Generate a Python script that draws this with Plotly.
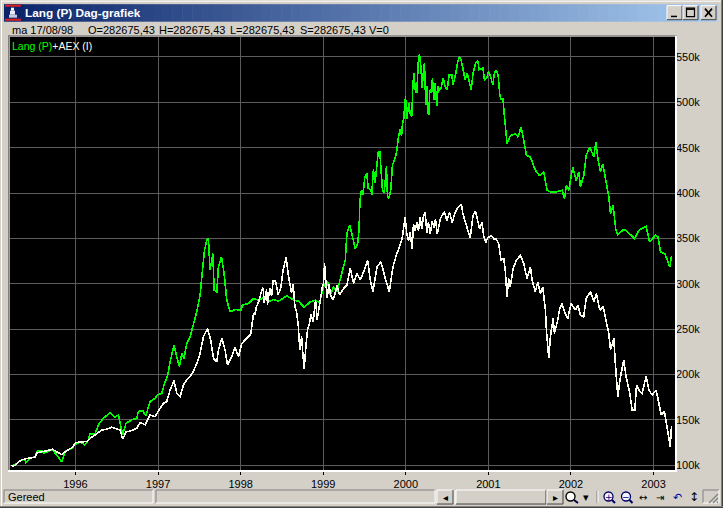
import plotly.graph_objects as go

TITLE = "Lang (P) Dag-grafiek"
QUOTE_DATE = "ma 17/08/98"
QUOTE_FIELDS = ["O=282675,43", "H=282675,43", "L=282675,43", "S=282675,43", "V=0"]
STATUS = "Gereed"
YEAR_TICKS = [1996, 1997, 1998, 1999, 2000, 2001, 2002, 2003]
VALUE_TICKS = [100, 150, 200, 250, 300, 350, 400, 450, 500, 550]
VALUE_LABELS = ["100k", "150k", "200k", "250k", "300k", "350k", "400k", "450k", "500k", "550k"]

lang_years = [1995.226,1995.287,1995.327,1995.388,1995.4,1995.449,1995.509,1995.538,1995.59,1995.618,1995.671,1995.719,1995.772,1995.832,1995.873,1995.913,1995.954,1996.006,1996.055,1996.115,1996.156,1996.176,1996.237,1996.277,1996.338,1996.418,1996.479,1996.519,1996.572,1996.612,1996.681,1996.742,1996.762,1996.814,1996.851,1996.903,1996.964,1996.992,1997.045,1997.073,1997.117,1997.146,1997.194,1997.226,1997.259,1997.287,1997.315,1997.348,1997.388,1997.421,1997.469,1997.509,1997.538,1997.562,1997.59,1997.61,1997.63,1997.663,1997.679,1997.711,1997.731,1997.768,1997.8,1997.832,1997.873,1997.933,1998.002,1998.022,1998.095,1998.156,1998.216,1998.277,1998.338,1998.398,1998.459,1998.56,1998.641,1998.701,1998.77,1998.843,1998.903,1998.956,1999.004,1999.053,1999.085,1999.125,1999.166,1999.202,1999.239,1999.267,1999.287,1999.32,1999.336,1999.368,1999.388,1999.417,1999.433,1999.441,
1999.443,1999.463,1999.483,1999.503,1999.528,1999.544,1999.576,1999.588,1999.608,1999.629,1999.649,1999.665,1999.685,1999.697,1999.717,1999.738,1999.746,1999.766,1999.778,1999.798,1999.818,1999.839,1999.859,1999.887,1999.907,1999.931,1999.948,1999.96,1999.976,1999.996,2000.012,2000.036,2000.052,2000.073,2000.085,2000.097,2000.117,2000.133,2000.153,2000.166,2000.182,2000.198,2000.21,2000.226,2000.242,2000.254,2000.266,2000.279,2000.291,2000.307,2000.323,2000.339,2000.355,2000.375,2000.392,2000.408,2000.428,2000.452,2000.476,2000.501,2000.525,2000.557,2000.573,2000.602,2000.63,2000.65,2000.67,2000.694,2000.719,2000.743,2000.775,2000.791,2000.815,2000.848,2000.872,2000.888,2000.933,2000.953,2000.981,2001.001,2001.021,2001.054,2001.074,2001.094,2001.118,2001.138,2001.155,2001.175,2001.195,
2001.226,2001.267,2001.327,2001.36,2001.396,2001.428,2001.461,2001.509,2001.57,2001.618,2001.671,2001.711,2001.752,2001.812,2001.893,2001.921,2001.946,2001.974,2002.022,2002.063,2002.095,2002.115,2002.156,2002.184,2002.228,2002.277,2002.301,2002.329,2002.358,2002.386,2002.418,2002.459,2002.479,2002.511,2002.544,2002.568,2002.641,2002.701,2002.77,2002.822,2002.911,2002.952,2003.024,2003.053,2003.085,2003.137,2003.198,2003.218]
lang_values = [99,101.6,105.2,106.7,103,107.4,109.6,115.5,116.2,113.3,115.1,117,111.5,103.8,115.1,117,118.8,123.6,125.4,122.5,128,134.6,134.6,144.5,151.8,158,152.9,155.5,133.5,146.3,150,151.8,159.2,160.3,154.4,170.2,173.8,177.5,179.3,188.5,199.5,214.2,232.5,219.7,208.7,223.3,217.8,234.3,241.7,252.7,269.2,287.5,315,337,348,349.8,315,333.3,293,291.2,318.7,329.7,311.3,282,269.2,271.7,271,276.5,278.3,283.8,282,284.6,280.2,282.7,280.9,286.8,282,280.9,273.9,280.2,282,279.1,296.7,302.2,287.5,296.7,291.2,304,316.8,326,355.3,364.5,359,344.3,338.8,344.3,359,377.3,
390.7,403.7,398.1,416.7,422.2,405.6,403.7,398.1,425.9,411.1,429.6,444.4,446.3,429.6,403.7,400,409.3,429.6,396.3,394.4,403.7,431.5,435.2,444.4,459.3,470.4,462.8,475.9,482.6,506.5,481.9,499.2,488.2,484.5,517.6,532.3,512,510.2,547,553.6,539.6,515.7,530.4,543.3,497.3,517.6,488.2,486.3,513.9,510.2,526.8,502.9,521.2,495.5,517.6,513.9,515.7,526.8,517.6,513.9,530.4,530.4,519.4,530.4,545.1,550.6,547,535.9,524.9,532.3,519.4,513.9,532.3,544,545.9,535.9,537.8,524.9,526.8,534.1,530.4,519.4,532.3,535.2,530.4,508.3,502.9,504.7,484.5,
454.3,463.5,465.3,461.7,472.7,458,441.5,439.7,425,419.5,423.2,403,401.2,401.2,403,393.8,408.5,403,428.7,414,423.2,406.6,419.5,441.5,450.7,439.7,456.2,436,423.2,432.3,414,395.6,377.3,386.5,359,354.2,360.1,356,349.8,359,363.4,346.1,353.5,351.7,335.1,333.3,318.6,331]

aex_years = [1995.226,1995.267,1995.307,1995.348,1995.408,1995.509,1995.538,1995.59,1995.651,1995.719,1995.772,1995.832,1995.893,1995.954,1996.006,1996.075,1996.144,1996.196,1996.257,1996.317,1996.378,1996.439,1996.499,1996.54,1996.572,1996.612,1996.681,1996.742,1996.782,1996.843,1996.903,1996.964,1997.024,1997.065,1997.105,1997.146,1997.194,1997.226,1997.267,1997.307,1997.348,1997.416,1997.469,1997.509,1997.55,1997.598,1997.638,1997.671,1997.711,1997.731,1997.772,1997.812,1997.841,1997.893,1997.933,1997.974,1998.014,1998.075,1998.123,1998.156,
1998.172,1998.193,1998.221,1998.253,1998.273,1998.285,1998.314,1998.326,1998.354,1998.374,1998.394,1998.423,1998.455,1998.487,1998.512,1998.536,1998.552,1998.576,1998.596,1998.616,1998.637,1998.657,1998.677,1998.697,1998.717,1998.738,1998.758,1998.77,1998.79,1998.81,1998.83,1998.851,1998.879,1998.907,1998.927,1998.948,1998.968,1998.988,1999.004,1999.016,1999.032,1999.048,1999.069,1999.093,1999.121,1999.141,
1999.166,1999.198,1999.247,1999.287,1999.328,1999.368,1999.408,1999.449,1999.489,1999.538,1999.57,1999.602,1999.651,1999.699,1999.752,1999.8,1999.845,1999.885,
1999.935,1999.955,1999.972,1999.992,2000.012,2000.032,2000.053,2000.077,2000.093,2000.113,2000.134,2000.154,2000.174,2000.194,2000.215,2000.235,2000.255,2000.275,2000.296,2000.32,2000.34,2000.36,2000.381,2000.417,2000.449,2000.47,2000.498,2000.53,2000.563,2000.591,2000.619,2000.652,2000.672,2000.692,2000.725,2000.753,2000.781,2000.814,2000.842,2000.866,2000.895,2000.923,2000.943,2000.968,2000.996,2001.036,2001.069,2001.097,2001.125,
2001.153,2001.186,2001.206,2001.226,2001.246,2001.266,2001.299,2001.339,2001.388,2001.428,2001.468,2001.509,2001.529,2001.569,2001.598,2001.63,2001.658,2001.691,2001.703,2001.731,2001.751,2001.784,2001.8,2001.84,2001.864,2001.893,2001.921,2001.961,2002.002,2002.054,2002.083,2002.115,2002.155,2002.184,2002.236,2002.277,2002.309,2002.349,2002.39,2002.418,2002.458,2002.479,2002.519,2002.539,2002.567,2002.6,2002.64,2002.668,2002.689,2002.713,2002.741,2002.774,2002.794,2002.834,2002.862,2002.911,2002.943,2002.984,2003.032,2003.064,2003.093,2003.133,2003.165,2003.19,2003.202,2003.218]
aex_values = [99,99.7,103.4,106,107.4,108.9,114,114.8,115.9,117.7,115.1,111.8,115.9,119.2,125,125.4,126.5,130.9,134.6,138.6,139.7,141.9,140.1,139,128.7,136.8,138.2,140.8,147,144.8,155.5,153.6,162.8,168.3,170.2,183,193.2,179.3,175.6,188.5,194,201.3,212.3,223.3,241.7,250.8,238,217.8,214.2,227,239.8,227,210.5,219.7,229.9,219.7,234.3,239.8,244.6,267.3,
266,275.2,280.8,291.9,295.6,278.9,293.8,277.1,295.6,286.3,303,303,288.2,295.6,314.1,323.4,328.9,310.4,299.3,290,299.3,275.2,269.7,254.9,227.1,241.9,217.8,206.7,230.8,249.3,254.9,266,258.6,282.6,260.4,273.4,282.6,295.6,301.2,322.6,301.2,284.5,299.3,286.3,282.6,288.2,
298.5,287.5,294.8,298.5,316.8,300.3,311.3,304,313.2,326,304,291.2,318.7,324.2,305.8,291.2,318.7,331.5,
343.8,349.3,360.3,373.2,354.8,347.4,356.6,338.3,365.8,358.5,367.7,358.5,373.2,360.3,375,378.7,356.6,367.7,354.8,369.5,362.2,371.3,354.8,371.3,376.9,378.7,369.5,378.7,367.7,376.9,382.4,386,387.9,376.9,365.8,358.5,351.1,375,380.5,371.3,360.3,367.7,353,345.6,351.1,353,349.3,349.3,343.8,
326,327.8,313.2,285.7,305.8,296.7,316.8,326,331.5,322.3,305.8,318.7,304,291.2,302.2,289.3,296.7,271,249,217.8,241.7,261.8,245.3,260,272.8,278.3,269.2,261.8,278.3,271,276.5,265.5,263.7,283.8,291.2,280.2,289.3,271,274.7,263.7,245.3,227,239.8,210.5,175.6,197.7,216,197.7,190.3,179.3,161,161,188.5,181.2,179.3,198.4,183,177.5,183,168.3,155.5,159.2,140.8,124.3,120.6,143]

W, H = 723, 508
L, R, T, B = 10, 675, 37.3, 470
FACE = "#D4D0C8"
FONT = "Liberation Sans"

def fx(p):
    return (p - L) / (R - L)

def fy(p):
    return (B - p) / (B - T)

shapes = []
annotations = []

def rect(x0, y0, x1, y1, fill, line=None, width=0):
    shapes.append(dict(type="rect", xref="paper", yref="paper", x0=fx(x0), x1=fx(x1), y0=fy(y0), y1=fy(y1),
                       fillcolor=fill, line=dict(color=line or fill, width=width), layer="above"))

def seg(x0, y0, x1, y1, color, width=1):
    shapes.append(dict(type="line", xref="paper", yref="paper", x0=fx(x0), x1=fx(x1), y0=fy(y0), y1=fy(y1),
                       line=dict(color=color, width=width), layer="above"))

def text(x, y, s, color="#000000", size=11, anchor="left", family=FONT):
    annotations.append(dict(xref="paper", yref="paper", x=fx(x), y=fy(y), text=s, showarrow=False,
                            xanchor=anchor, yanchor="middle", align=anchor, borderpad=0,
                            font=dict(family=family, size=size, color=color)))

def raised(x0, y0, x1, y1):
    rect(x0, y0, x1, y1, FACE)
    seg(x0, y0, x1, y0, "#FFFFFF")
    seg(x0, y0, x0, y1, "#FFFFFF")
    seg(x0, y1, x1, y1, "#404040")
    seg(x1, y0, x1, y1, "#404040")

def sunken(x0, y0, x1, y1):
    seg(x0, y0, x1, y0, "#808080")
    seg(x0, y0, x0, y1, "#808080")
    seg(x0, y1, x1, y1, "#FFFFFF")
    seg(x1, y0, x1, y1, "#FFFFFF")

# window frame
seg(1, 1.5, 721, 1.5, "#FFFFFF")
seg(1.5, 1, 1.5, 506, "#FFFFFF")
seg(721.5, 0, 721.5, 508, "#808080")
seg(722.5, 0, 722.5, 508, "#404040")
seg(0, 506.5, 723, 506.5, "#808080")
seg(0, 507.5, 723, 507.5, "#404040")

# title bar gradient
steps = 72
a, b = (10, 36, 106), (166, 202, 240)
for i in range(steps):
    t = i / (steps - 1)
    c = tuple(round(a[k] + (b[k] - a[k]) * t) for k in range(3))
    x0 = 4 + (717 - 4) * i / steps
    x1 = 4 + (717 - 4) * (i + 1) / steps
    rect(x0, 4.5, x1 + 0.5, 22, "rgb(%d,%d,%d)" % c)

# application icon
rect(5, 5, 21, 21, "#0A246A")
rect(5, 5, 21, 7, "#E02020")
rect(5, 19, 21, 21, "#E02020")
rect(11, 8, 14, 11, "#FFFFFF")
rect(10, 11, 15, 15, "#E8E8F8")
rect(9, 15, 17, 18, "#C8C8E0")

text(24, 13.5, "<b>" + TITLE + "</b>", "#FFFFFF", 11.8)

# caption buttons
raised(667, 6, 682, 20)
raised(683, 6, 698, 20)
raised(701, 6, 716, 20)
rect(671, 16, 677, 17.5, "#000000")
rect(686.5, 8.5, 694.5, 17, "rgba(0,0,0,0)", "#000000", 1.2)
seg(686.5, 9.5, 694.5, 9.5, "#000000", 1.5)
seg(705, 9, 712, 17, "#000000", 1.7)
seg(712, 9, 705, 17, "#000000", 1.7)

# quote line
text(11, 30, QUOTE_DATE)
for x, s in zip([87, 158, 229, 299, 368], QUOTE_FIELDS):
    text(x, 30, s)

# plot border
rect(8, 35.5, 9.6, 472, "#808080")
rect(8, 35.5, 677, 37.1, "#808080")
rect(8, 470, 677, 472, "#FFFFFF")
rect(675, 36, 677, 472, "#FFFFFF")

# series caption
text(11, 46.5, '<span style="color:#00FF00">Lang (P)</span>+AEX (I)', "#FFFFF0", 10.5)

# status bar
sunken(4, 490, 153, 503)
text(7, 497, STATUS)
sunken(156, 490, 435, 503)
rect(437, 490, 563, 504, "#E8E6E0")
raised(437, 490, 453, 504)
raised(456, 490, 546, 504)
raised(547, 490, 563, 504)
text(445, 497, "◂", "#000000", 10, "center", "DejaVu Sans")
text(555, 497, "▸", "#000000", 10, "center", "DejaVu Sans")

# toolbar glyphs
shapes.append(dict(type="circle", xref="paper", yref="paper", x0=fx(566), x1=fx(575), y0=fy(492), y1=fy(501),
                   fillcolor="#FFFFFF", line=dict(color="#000000", width=1.4), layer="above"))
seg(574, 500, 578, 503, "#000040", 2)
text(586, 497, "▾", "#000000", 11, "center", "DejaVu Sans")
seg(597, 491, 597, 503, "#808080")
seg(598, 491, 598, 503, "#FFFFFF")
for cx, mark in [(608.5, "+"), (626, "−")]:
    shapes.append(dict(type="circle", xref="paper", yref="paper", x0=fx(cx - 4.5), x1=fx(cx + 4.5), y0=fy(492), y1=fy(501),
                       fillcolor="#F4F4FF", line=dict(color="#000060", width=1.3), layer="above"))
    seg(cx + 3.5, 500, cx + 6.5, 503, "#000060", 2)
    text(cx, 496.5, mark, "#000080", 9, "center", "DejaVu Sans")
text(643, 497, "↔", "#000000", 10, "center", "DejaVu Sans")
text(660, 497, "⇥", "#000000", 10, "center", "DejaVu Sans")
text(677, 497, "↶", "#0000A0", 11, "center", "DejaVu Sans")
text(694, 497, "↕", "#000000", 12, "center", "DejaVu Sans")

# size grip
sunken(703, 490, 719, 503)
for d in (0, 4, 8):
    seg(709 + d, 503, 718, 494 + d, "#808080", 1.2)

fig = go.Figure()
fig.add_trace(go.Scatter(x=lang_years, y=lang_values, mode="lines", name="Lang (P)",
                         line=dict(color="#00FF00", width=1.6), hoverinfo="skip"))
fig.add_trace(go.Scatter(x=aex_years, y=aex_values, mode="lines", name="AEX (I)",
                         line=dict(color="#FFFFF0", width=1.6), hoverinfo="skip"))

fig.update_layout(
    width=W, height=H, autosize=False, showlegend=False,
    margin=dict(l=L, r=W - R, t=T, b=H - B, pad=0),
    paper_bgcolor=FACE, plot_bgcolor="#000000",
    font=dict(family=FONT, size=11, color="#000000"),
    shapes=shapes, annotations=annotations,
    xaxis=dict(range=[1995.207, 2003.26], tickmode="array", tickvals=YEAR_TICKS,
               ticktext=[str(v) for v in YEAR_TICKS], showgrid=True, gridcolor="#5C5C5C", gridwidth=1,
               zeroline=False, showline=False, ticks="outside", ticklen=4, tickcolor="#000000", tickwidth=1,
               tickfont=dict(family=FONT, size=11, color="#000000")),
    yaxis=dict(range=[94.8, 572], side="right", tickmode="array", tickvals=VALUE_TICKS,
               ticktext=VALUE_LABELS, showgrid=True, gridcolor="#5C5C5C", gridwidth=1,
               zeroline=False, showline=False, ticks="",
               tickfont=dict(family=FONT, size=11, color="#000000")),
)

fig.write_html("out.html", config=dict(displayModeBar=False, staticPlot=True),
               post_script="document.body.style.margin='0';document.body.style.overflow='hidden';"
                           "document.querySelectorAll('.js-line').forEach(function(p){p.style.shapeRendering='crispEdges';});")
